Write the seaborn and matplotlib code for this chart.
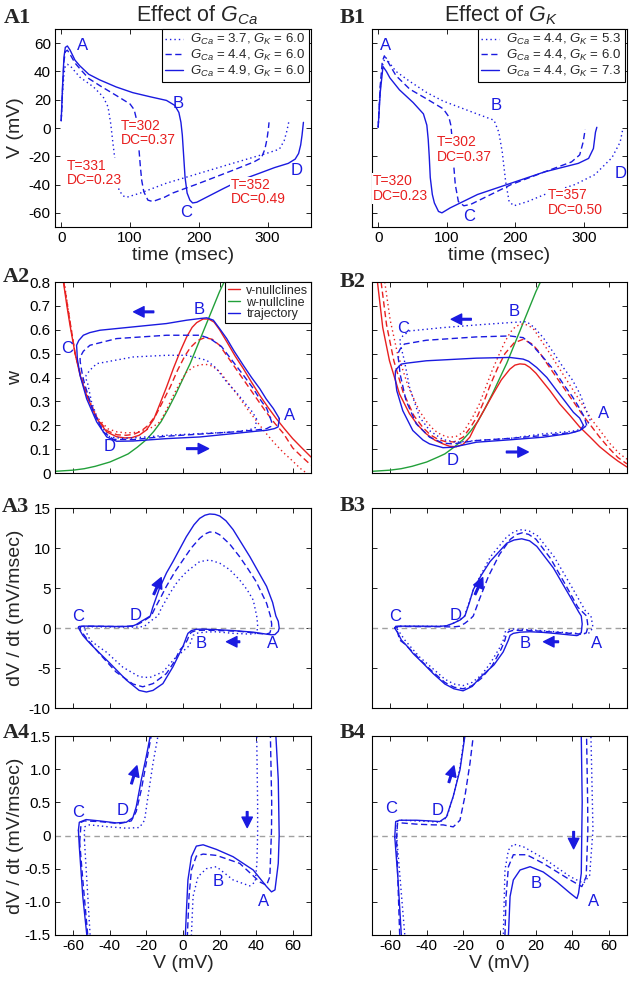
import numpy as np
import matplotlib
matplotlib.use('Agg')
import matplotlib.pyplot as plt
import seaborn as sns
from matplotlib.lines import Line2D

sns.set_theme(style='ticks')
plt.rcParams['font.family'] = ['Liberation Sans', 'DejaVu Sans']
plt.rcParams['mathtext.fontset'] = 'custom'
plt.rcParams['mathtext.rm'] = 'Liberation Sans'
plt.rcParams['mathtext.it'] = 'Liberation Sans:italic'
plt.rcParams['axes.unicode_minus'] = False

BLUE = '#1a1ae0'
RED = '#e82020'
GREEN = '#22a03a'

# ---------------- A1 : V(t), effect of G_Ca ----------------
a1_t_solid = [0, 2, 4, 6, 9, 13, 20, 27, 40, 56, 80, 104, 130, 153, 165, 171, 174, 176, 178, 180, 183, 187,
              191, 197, 215, 235, 260, 288, 310, 330, 340, 345, 348, 350, 352]
a1_v_solid = [5, 30, 50, 57, 58, 55, 48, 44, 38, 34, 29, 25, 22, 19.5, 16, 11, 4, -5, -20, -35, -46, -51,
              -53, -52.5, -48, -43, -37, -32, -28, -25, -22, -18, -12, -5, 4]
a1_t_dash = [0, 2, 4, 6, 9, 13, 20, 27, 40, 56, 80, 100, 106, 109, 111, 113, 115, 117, 120, 126, 133, 150,
             162, 201, 249, 280, 291, 296, 299, 301, 302]
a1_v_dash = [5, 28, 47, 54, 55, 52, 46, 42, 35, 30, 23, 17, 13, 7, -3, -15, -27, -37, -45, -51, -52, -49,
             -46, -39, -30, -24, -21, -15, -8, -1, 4]
a1_t_dot = [0, 2, 4, 6, 9, 13, 20, 27, 47, 61, 68, 72, 75, 78, 81, 84, 90, 95, 115, 153, 201, 249, 298,
            317, 324, 328, 331]
a1_v_dot = [5, 25, 38, 44, 45, 44, 40, 36, 29, 22, 15, 3, -10, -22, -35, -44, -48, -49, -46, -39, -32, -25,
            -18, -15, -9, -2, 5]
a1_legend = [r'$G_{Ca}$ = 3.7, $G_K$ = 6.0', r'$G_{Ca}$ = 4.4, $G_K$ = 6.0', r'$G_{Ca}$ = 4.9, $G_K$ = 6.0']
a1_notes = [('T=331\nDC=0.23', 7.7, -31.7), ('T=302\nDC=0.37', 86, -3.4), ('T=352\nDC=0.49', 247, -45.2)]

# ---------------- B1 : V(t), effect of G_K ----------------
b1_t_solid = [0, 3, 7, 12, 17, 31, 51, 66, 71, 73, 74.5, 76, 79, 82, 88, 93, 105, 145, 194, 243, 292, 307,
              314, 317, 319]
b1_v_solid = [0.5, 25, 43.5, 40, 35.5, 27, 18, 10, 2, -8, -20, -35, -47, -53, -59, -60, -56.5, -47, -39,
              -31, -25, -21.5, -14.5, -3, 0.5]
b1_t_dash = [0, 3, 6, 9, 14, 26, 46, 71, 95, 103, 106, 108, 110, 112.5, 117, 125, 135, 194, 243, 282, 294,
             299, 302]
b1_v_dash = [0.5, 30, 47, 51, 47, 37, 27.5, 20.5, 13.5, 8, 2, -8, -25, -40, -52, -55, -54, -40, -31, -24,
             -19, -10, -1]
b1_t_dot = [0, 3, 7, 11, 15, 26, 46, 71, 95, 144, 169, 176, 181, 186, 191, 198, 218, 243, 287, 316, 341,
            353, 357]
b1_v_dot = [0.5, 28, 46, 50, 47, 40, 33, 25, 19, 10, 5.5, -3, -17, -38, -52, -55, -52, -47, -40, -33, -21,
            -10, -0.5]
b1_legend = [r'$G_{Ca}$ = 4.4, $G_K$ = 5.3', r'$G_{Ca}$ = 4.4, $G_K$ = 6.0', r'$G_{Ca}$ = 4.4, $G_K$ = 7.3']
b1_notes = [('T=320\nDC=0.23', -8, -42.8), ('T=302\nDC=0.37', 85, -15.2), ('T=357\nDC=0.50', 248, -52.8)]

# ---------------- w-nullcline (both phase planes) ----------------
wnull_v = [-70, -60, -54, -48, -40, -34, -30, -25, -20, -16, -12, -8, -4, 0, 4, 8, 12, 16, 20, 22.5]
wnull_w = [0.007, 0.012, 0.018, 0.028, 0.046, 0.066, 0.08, 0.108, 0.14, 0.174, 0.215, 0.27, 0.33, 0.395,
           0.46, 0.535, 0.61, 0.685, 0.76, 0.80]

# ---------------- A2 : phase plane, G_Ca ----------------
a2_vn_v_solid = [-65.4, -63.5, -61.8, -59, -56.3, -52.7, -47.2, -41.7, -36.3, -32, -28, -24, -20, -16, -12.6,
                 -9, -5.3, -1.5, 2, 5, 7.5, 11, 14, 17, 20, 24, 28.5, 33, 37.5, 42, 46.5, 51, 55.5, 60, 65, 70]
a2_vn_w_solid = [0.8, 0.7, 0.619, 0.5, 0.41, 0.325, 0.228, 0.172, 0.152, 0.147, 0.148, 0.158, 0.18, 0.225,
                 0.29, 0.36, 0.437, 0.51, 0.57, 0.61, 0.63, 0.645, 0.645, 0.632, 0.60, 0.549, 0.49, 0.437,
                 0.38, 0.325, 0.275, 0.228, 0.185, 0.144, 0.105, 0.067]
a2_vn_v_dash = [-65.2, -61.5, -59, -56, -52.5, -47, -41.5, -36, -31, -27, -23, -19, -15, -11, -7, -3, 1, 4,
                8, 12, 16, 20, 25, 30, 35, 40, 45, 50, 55, 60, 65, 70]
a2_vn_w_dash = [0.8, 0.62, 0.5, 0.41, 0.325, 0.23, 0.177, 0.16, 0.158, 0.162, 0.175, 0.2, 0.24, 0.3, 0.36,
                0.43, 0.49, 0.525, 0.555, 0.567, 0.56, 0.535, 0.48, 0.425, 0.37, 0.315, 0.26, 0.21, 0.165,
                0.105, 0.068, 0.033]
a2_vn_v_dot = [-65, -61.5, -59, -56, -52.5, -47, -41, -36, -31, -26, -21, -16.5, -12.6, -9, -5.3, -1.5, 2, 6,
               9.3, 12.5, 16, 20, 25, 30, 35, 40, 45, 50, 55, 60, 64, 67.5]
a2_vn_w_dot = [0.8, 0.62, 0.5, 0.41, 0.325, 0.233, 0.185, 0.172, 0.168, 0.17, 0.178, 0.193, 0.214, 0.265,
               0.325, 0.38, 0.423, 0.445, 0.453, 0.455, 0.448, 0.425, 0.375, 0.325, 0.27, 0.22, 0.17, 0.125,
               0.085, 0.05, 0.02, 0.0]
a2_tr_v_solid = [52.7, 49.4, 45.5, 42, 37.5, 33, 28, 23.9, 20, 16.6, 13, 9.3, 2, -9, -27.2, -45.4, -51, -54.5,
                 -57, -58.2, -58, -57.8, -56.3, -52.7, -47.2, -41.7, -36.3, -27.2, -9, 9.3, 27.5, 40, 45.8,
                 50, 52, 52.7]
a2_tr_w_solid = [0.228, 0.27, 0.31, 0.353, 0.40, 0.451, 0.51, 0.563, 0.605, 0.64, 0.65, 0.647, 0.64, 0.626,
                 0.612, 0.598, 0.588, 0.577, 0.555, 0.535, 0.51, 0.479, 0.409, 0.311, 0.214, 0.151, 0.133,
                 0.134, 0.144, 0.151, 0.165, 0.175, 0.179, 0.186, 0.193, 0.228]
a2_tr_v_dash = [48.5, 45.8, 42, 38.5, 33, 27.5, 21, 14.8, 9.3, -9, -36.3, -50.9, -54.5, -56.3, -56.2, -55,
                -53.6, -49, -43.6, -38, -27.2, -9, 9.3, 27.5, 40, 45.8, 48, 48.5]
a2_tr_w_dash = [0.214, 0.27, 0.31, 0.353, 0.41, 0.465, 0.53, 0.563, 0.577, 0.577, 0.563, 0.535, 0.51, 0.485,
                0.465, 0.41, 0.367, 0.256, 0.172, 0.141, 0.14, 0.154, 0.163, 0.172, 0.18, 0.186, 0.195, 0.214]
a2_tr_v_dot = [40.3, 38, 34.8, 30, 23.9, 18, 13, 2, -9, -27.2, -47.2, -51, -53, -53.2, -52.3, -50, -45.4, -40,
               -33, -27.2, -9, 9.3, 27.5, 36, 39.5, 40.3]
a2_tr_w_dot = [0.225, 0.255, 0.284, 0.33, 0.381, 0.44, 0.472, 0.493, 0.493, 0.486, 0.458, 0.43, 0.409, 0.395,
               0.381, 0.297, 0.2, 0.151, 0.145, 0.147, 0.158, 0.165, 0.172, 0.18, 0.19, 0.225]

# ---------------- B2 : phase plane, G_K ----------------
b2_vn_v_solid = [-67, -64.1, -60.4, -54.9, -49.4, -44.8, -40.2, -35.6, -31, -27.4, -23.7, -20, -16.3, -12.7,
                 -8, -3.5, 1, 5.7, 8.5, 11.2, 14, 16.7, 20, 24, 27.7, 33, 38.8, 44, 49.8, 55, 60.8, 65, 70]
b2_vn_w_solid = [0.8, 0.609, 0.47, 0.331, 0.248, 0.2, 0.164, 0.138, 0.122, 0.112, 0.11, 0.12, 0.15, 0.206,
                 0.27, 0.331, 0.39, 0.435, 0.452, 0.457, 0.455, 0.442, 0.418, 0.38, 0.345, 0.29, 0.24, 0.193,
                 0.15, 0.11, 0.074, 0.05, 0.025]
b2_vn_v_dash = [-65, -62, -58, -53, -47, -42, -38, -34, -30, -25, -20, -16, -12, -8, -5, -1, 3, 8, 13, 18,
                22, 25, 30, 35, 40, 45, 50, 55, 60, 65, 70]
b2_vn_w_dash = [0.8, 0.62, 0.47, 0.34, 0.24, 0.19, 0.16, 0.142, 0.132, 0.13, 0.15, 0.19, 0.24, 0.31, 0.37,
                0.44, 0.5, 0.545, 0.56, 0.54, 0.505, 0.47, 0.415, 0.36, 0.305, 0.25, 0.2, 0.15, 0.105, 0.065,
                0.038]
b2_vn_v_dot = [-63, -60, -56, -50, -44, -40, -36, -32, -28, -24, -20, -15, -11, -8, -4, 0, 3, 6, 9, 13, 16,
               19, 22, 26, 31, 36, 41, 46, 51, 56, 61, 66, 70]
b2_vn_w_dot = [0.8, 0.64, 0.5, 0.36, 0.26, 0.215, 0.18, 0.16, 0.15, 0.152, 0.17, 0.23, 0.29, 0.35, 0.43,
               0.5, 0.55, 0.59, 0.615, 0.625, 0.618, 0.6, 0.565, 0.52, 0.46, 0.4, 0.34, 0.28, 0.22, 0.17,
               0.12, 0.08, 0.058]
b2_tr_v_solid = [46.1, 44, 40.6, 36, 31.4, 26, 20.4, 16, 13, 5.7, -12.7, -40.2, -51, -54, -56, -57.1, -57.3,
                 -56.4, -53.1, -47.6, -42, -38.4, -31, -25.5, -12.7, 5.7, 24, 38, 44.2, 46.1]
b2_tr_w_solid = [0.199, 0.23, 0.254, 0.3, 0.345, 0.4, 0.442, 0.468, 0.477, 0.484, 0.481, 0.47, 0.46, 0.456,
                 0.44, 0.428, 0.4, 0.345, 0.261, 0.178, 0.138, 0.122, 0.106, 0.108, 0.129, 0.139, 0.15,
                 0.165, 0.178, 0.199]
b2_tr_v_dash = [47.9, 46.5, 44.2, 40, 35, 30, 24, 18, 13, 5.7, -12.7, -40.2, -52.2, -54.5, -55.9, -55.2,
                -54.6, -51.3, -45.7, -38.4, -31, -25.5, -12.7, 5.7, 24, 40, 44.2, 47.9]
b2_tr_w_dash = [0.199, 0.235, 0.268, 0.32, 0.373, 0.43, 0.484, 0.535, 0.567, 0.574, 0.57, 0.556, 0.54, 0.52,
                0.498, 0.46, 0.415, 0.303, 0.206, 0.15, 0.125, 0.122, 0.136, 0.145, 0.157, 0.17, 0.178, 0.199]
b2_tr_v_dot = [49.8, 47, 44.2, 40, 35, 30, 24, 19, 14.9, 5.7, -12.7, -31, -49.4, -53, -54.9, -53.5, -52.2,
               -49.4, -43.9, -38, -31, -23.7, -12.7, 5.7, 24, 40, 46, 49.8]
b2_tr_w_dot = [0.22, 0.275, 0.331, 0.39, 0.442, 0.5, 0.567, 0.61, 0.634, 0.63, 0.62, 0.609, 0.595, 0.575,
               0.554, 0.51, 0.47, 0.359, 0.234, 0.175, 0.14, 0.129, 0.136, 0.145, 0.164, 0.175, 0.185, 0.22]

# ---------------- A3/A4 : dV/dt vs V, G_Ca ----------------
a3_v_solid = [-57.2, -56.7, -53, -45.7, -36.6, -31, -27.4, -25.6, -22.8, -20.1, -17.9, -16.5, -12.8, -9,
              -5.5, 1.8, 6, 9.1, 12, 14.6, 17.5, 20.1, 23.5, 27.4, 36.6, 45.7, 49, 50.8, 52.1, 52.6, 52.1,
              50.3, 48.4, 45.7, 38.4, 27.4, 18.3, 11, 7.3, 4.6, 2.7, 1.8, 1.3, 0, -5.5, -11, -16.4, -20, -24,
              -31, -40, -49.3, -52.6, -54.8, -56.7, -57.2]
a3_d_solid = [0.08, 0.2, 0.24, 0.22, 0.19, 0.2, 0.27, 0.43, 0.84, 1.19, 1.5, 2.6, 5.0, 6.9, 8.3, 11.4, 12.9,
              13.7, 14.1, 14.25, 14.2, 14.0, 13.4, 12.3, 8.9, 5.2, 3.2, 1.5, 0.84, 0, -0.42, -0.82, -0.85,
              -0.77, -0.52, -0.32, -0.21, -0.14, -0.16, -0.32, -0.67, -1.18, -1.5, -2.3, -4.85, -6.95, -7.8,
              -8.0, -7.8, -6.5, -4.4, -2.3, -1.5, -0.92, -0.17, 0.08]
a3_v_dash = [-56.5, -55.7, -54, -45.7, -34.7, -28.3, -25.6, -22.8, -20.1, -17.4, -15.5, -12, -9.1, -4.5, 0,
             4.5, 9.1, 12, 14.6, 17.5, 20.1, 25.5, 31, 35.5, 40, 45.7, 47.8, 48.5, 48.4, 47.5, 45.7, 42, 31,
             18.3, 11, 7.3, 4.6, 3.3, 2.4, 0.5, -1.8, -5, -9.1, -16.4, -22, -27.4, -36.6, -45.7, -52.1,
             -54.8, -56.5]
a3_d_dash = [-0.1, 0.2, 0.22, 0.21, 0.18, 0.22, 0.36, 0.69, 1.09, 1.5, 2.4, 3.9, 5.2, 7.0, 8.5, 10.0, 11.2,
             11.75, 12.0, 11.95, 11.65, 10.5, 8.9, 7.4, 5.8, 3.1, 1.5, 0.5, 0.08, -0.62, -0.75, -0.7, -0.42,
             -0.3, -0.28, -0.31, -0.52, -0.92, -1.5, -2.2, -2.76, -4.3, -5.7, -6.95, -7.35, -7.0, -5.5, -3.2,
             -1.5, -0.67, -0.1]
a3_v_dot = [-53.9, -53.9, -51.2, -40.2, -31, -23.8, -21, -19.2, -16.4, -13.7, -12, -7.3, -3, 1.8, 9.1, 14.6,
            20.1, 25.5, 31, 35, 38.4, 40.3, 40.8, 40.8, 40.4, 39.5, 36.5, 27.4, 18.3, 12.8, 8.2, 5.5, 4.6,
            3.5, -0.5, -3.7, -11, -18.3, -23.8, -32.9, -42, -47, -50.8, -52.6, -53.9]
a3_d_dot = [-0.07, 0.13, 0.16, 0.13, 0.11, 0.12, 0.23, 0.58, 1.09, 1.5, 2.4, 4.3, 5.8, 7.0, 8.3, 8.5, 8.1,
            7.3, 6.0, 4.8, 3.5, 1.5, 0.5, 0, -0.42, -0.7, -0.76, -0.67, -0.47, -0.5, -0.62, -0.92, -1.5,
            -2.2, -3.0, -3.6, -5.5, -6.2, -6.1, -4.9, -3.0, -2.2, -1.5, -0.67, -0.07]

# ---------------- B3/B4 : dV/dt vs V, G_K ----------------
b3_v_solid = [-57.5, -57, -55, -45.6, -38.3, -32.8, -29.1, -25.4, -21.7, -19, -16.5, -14.4, -10, -5.2, 4, 8,
              12.2, 16.5, 20.5, 29.6, 38.8, 43.5, 44.9, 45.4, 45.2, 44.9, 43.4, 42.5, 38.8, 31.5, 24, 16.8,
              11.3, 7.6, 5.8, 4.9, 2, -3, -10.7, -15, -20, -25, -30, -36.4, -42, -47.4, -51, -53.9, -55.7,
              -57.5]
b3_d_solid = [-0.02, 0.21, 0.23, 0.23, 0.22, 0.21, 0.28, 0.59, 0.99, 1.5, 3.2, 4.8, 6.6, 8.3, 10.6, 11.0,
              11.15, 10.9, 10.2, 7.5, 3.9, 2.0, 1.5, 0.5, 0.08, -0.57, -0.87, -0.95, -0.87, -0.7, -0.55,
              -0.47, -0.52, -0.67, -0.92, -1.5, -3.0, -4.6, -6.2, -7.3, -7.85, -7.6, -7.0, -5.7, -4.4, -3.2,
              -2.2, -1.5, -0.67, -0.02]
b3_v_dash = [-56.5, -56, -54, -45, -36, -30.9, -25.4, -21.7, -19, -16.2, -14.4, -11, -6, 0, 6, 9.5, 12.5,
             16, 20, 28, 36, 43, 47.8, 48.4, 48.5, 47.6, 45.2, 38.8, 24, 14.9, 7.6, 4.9, 3.6, 3, 1, -4, -10,
             -15, -20, -25, -30, -37, -43, -48, -52, -54.8, -55.8, -56.5]
b3_d_dash = [-0.05, 0.18, 0.19, 0.17, 0.16, 0.16, 0.13, 0.23, 0.59, 1.09, 1.5, 3.6, 6.5, 9.2, 11.1, 11.7,
             11.9, 11.7, 11.1, 8.7, 5.5, 2.6, 1.5, 0.5, 0.08, -0.62, -0.77, -0.67, -0.42, -0.29, -0.29, -0.47,
             -0.92, -1.5, -2.6, -4.7, -6.3, -7.2, -7.6, -7.4, -6.8, -5.4, -4.1, -2.9, -2.0, -1.5, -0.67,
             -0.05]
b3_v_dot = [-56.5, -56, -54, -45, -38, -33, -29, -25.5, -22, -19.2, -17, -14, -5, 4, 8.5, 12.5, 16.5, 21, 30,
            40, 47, 50.2, 51, 51.3, 49.5, 46.1, 38.8, 24, 13.1, 7.6, 4.9, 3, 2.1, 0, -5, -10, -15, -20, -25,
            -30, -37, -44, -49, -52, -54.5, -56.5]
b3_d_dot = [0.0, 0.21, 0.23, 0.22, 0.21, 0.2, 0.27, 0.58, 0.98, 1.5, 3.0, 5.0, 8.9, 11.4, 12.1, 12.3, 12.1,
            11.5, 8.9, 5.0, 2.2, 1.5, 0.5, 0.08, -0.6, -0.72, -0.62, -0.34, -0.17, -0.13, -0.22, -0.52,
            -1.5, -2.5, -4.4, -5.9, -6.8, -7.2, -7.0, -6.4, -5.0, -3.6, -2.3, -1.5, -0.67, 0.0]

STYLES = {'dot': (0, (1, 2.2)), 'dash': (0, (4.5, 2.5)), 'solid': '-'}


def line(ax, x, y, kind, color=BLUE, lw=1.0):
    sns.lineplot(x=x, y=y, sort=False, estimator=None, ax=ax, color=color,
                 linestyle=STYLES[kind], lw=lw)


def frame(ax):
    ax.tick_params(direction='in', top=True, right=True, length=3.5, width=0.6,
                   labelsize=11, pad=3, colors='black')
    for s in ax.spines.values():
        s.set_linewidth(0.8)
        s.set_color('black')


def letters(ax, items):
    for lab, x, y in items:
        ax.text(x, y, lab, color=BLUE, fontsize=12, ha='center', va='center', zorder=6)


def arrow(ax, tail, head):
    ax.annotate('', xy=head, xytext=tail,
                arrowprops=dict(facecolor=BLUE, edgecolor=BLUE, width=1.2, headwidth=7.5,
                                headlength=7.5, shrink=0), zorder=7)


def box(left, top, right, bottom):
    return [left / 629, 1 - bottom / 982, (right - left) / 629, (bottom - top) / 982]


fig = plt.figure(figsize=(6.29, 9.82), dpi=100)
cols = [(55, 311), (372, 627)]
rows = [(29, 227), (282, 473), (508, 708), (736, 935)]
axs = [[fig.add_axes(box(c[0], r[0], c[1], r[1])) for c in cols] for r in rows]

v_ticks = [-60, -40, -20, 0, 20, 40, 60]

# ---- row 1 ----
for ax, data, legend_labels, notes in [
        (axs[0][0], [(a1_t_dot, a1_v_dot, 'dot'), (a1_t_dash, a1_v_dash, 'dash'),
                     (a1_t_solid, a1_v_solid, 'solid')], a1_legend, a1_notes),
        (axs[0][1], [(b1_t_dot, b1_v_dot, 'dot'), (b1_t_dash, b1_v_dash, 'dash'),
                     (b1_t_solid, b1_v_solid, 'solid')], b1_legend, b1_notes)]:
    for t, v, k in data:
        line(ax, t, v, k)
    for txt, x, y in notes:
        ax.text(x, y, txt, color=RED, fontsize=10, ha='left', va='center', linespacing=1.05, zorder=5,
                bbox=dict(facecolor='white', edgecolor='none', pad=0.6))
    ax.set_xlim(-9, 363)
    ax.set_ylim(-70, 70)
    ax.set_xticks([0, 100, 200, 300])
    ax.set_yticks(v_ticks)
    ax.set_xlabel('time (msec)', fontsize=14, labelpad=1)
    handles = [Line2D([], [], color=BLUE, lw=1, linestyle=STYLES[k]) for k in ['dot', 'dash', 'solid']]
    leg = ax.legend(handles, legend_labels, loc='upper right', bbox_to_anchor=(0.992, 1.0), borderaxespad=0,
                    fontsize=9.5, handlelength=1.3, handletextpad=0.6, labelspacing=0.05, borderpad=0.25,
                    fancybox=False, framealpha=1, edgecolor='black')
    leg.get_frame().set_linewidth(0.8)
    frame(ax)

letters(axs[0][0], [('A', 31, 58), ('B', 170, 17), ('C', 182, -60), ('D', 342, -30)])
letters(axs[0][1], [('A', 11, 58), ('B', 172, 16), ('C', 132, -62.5), ('D', 353, -32)])
axs[0][0].set_ylabel('V (mV)', fontsize=14)

# ---- row 2 ----
for ax, vn, tr in [
        (axs[1][0], [(a2_vn_v_dot, a2_vn_w_dot, 'dot'), (a2_vn_v_dash, a2_vn_w_dash, 'dash'),
                     (a2_vn_v_solid, a2_vn_w_solid, 'solid')],
         [(a2_tr_v_dot, a2_tr_w_dot, 'dot'), (a2_tr_v_dash, a2_tr_w_dash, 'dash'),
          (a2_tr_v_solid, a2_tr_w_solid, 'solid')]),
        (axs[1][1], [(b2_vn_v_dot, b2_vn_w_dot, 'dot'), (b2_vn_v_dash, b2_vn_w_dash, 'dash'),
                     (b2_vn_v_solid, b2_vn_w_solid, 'solid')],
         [(b2_tr_v_dot, b2_tr_w_dot, 'dot'), (b2_tr_v_dash, b2_tr_w_dash, 'dash'),
          (b2_tr_v_solid, b2_tr_w_solid, 'solid')])]:
    line(ax, wnull_v, wnull_w, 'solid', color=GREEN)
    for v, w, k in vn:
        line(ax, v, w, k, color=RED)
    for v, w, k in tr:
        line(ax, v, w, k)
    ax.set_xlim(-70, 70)
    ax.set_ylim(0, 0.8)
    ax.set_xticks(v_ticks)
    ax.set_yticks(np.arange(0, 0.81, 0.1))
    ax.set_xlabel('')
    frame(ax)

axs[1][0].set_yticklabels(['0', '0.1', '0.2', '0.3', '0.4', '0.5', '0.6', '0.7', '0.8'])
axs[1][0].set_ylabel('w', fontsize=14)
leg = axs[1][0].legend([Line2D([], [], color=RED, lw=1), Line2D([], [], color=GREEN, lw=1),
                        Line2D([], [], color=BLUE, lw=1)],
                       ['v-nullclines', 'w-nullcline', 'trajectory'], loc='upper right', borderaxespad=0,
                       fontsize=9, handlelength=1.0, handletextpad=0.5, labelspacing=0.0, borderpad=0.2,
                       fancybox=False, framealpha=1, edgecolor='black')
leg.get_frame().set_linewidth(0.8)
letters(axs[1][0], [('A', 58.5, 0.242), ('B', 9, 0.686), ('C', -63.6, 0.521), ('D', -40, 0.109)])
letters(axs[1][1], [('A', 57, 0.248), ('B', 8, 0.676), ('C', -53, 0.607), ('D', -26, 0.053)])
arrow(axs[1][0], (-16, 0.675), (-27, 0.675))
arrow(axs[1][0], (2, 0.102), (14, 0.102))
arrow(axs[1][1], (-15.5, 0.644), (-26.5, 0.644))
arrow(axs[1][1], (3.8, 0.088), (15.8, 0.088))

# ---- rows 3 and 4 (same loops, different zoom) ----
loops_a = [(a3_v_dot, a3_d_dot, 'dot'), (a3_v_dash, a3_d_dash, 'dash'), (a3_v_solid, a3_d_solid, 'solid')]
loops_b = [(b3_v_dot, b3_d_dot, 'dot'), (b3_v_dash, b3_d_dash, 'dash'), (b3_v_solid, b3_d_solid, 'solid')]
for r, ylim, yt in [(2, (-10, 15), [-10, -5, 0, 5, 10, 15]), (3, (-1.5, 1.5), [-1.5, -1, -0.5, 0, 0.5, 1, 1.5])]:
    for c, loops in [(0, loops_a), (1, loops_b)]:
        ax = axs[r][c]
        ax.axhline(0, color='#a0a0a0', lw=1.0, linestyle=(0, (4, 3)), zorder=1)
        for v, d, k in loops:
            line(ax, v, d, k)
        ax.set_xlim(-70, 70)
        ax.set_ylim(*ylim)
        ax.set_xticks(v_ticks)
        ax.set_yticks(yt)
        ax.set_xlabel('')
        frame(ax)

axs[3][0].set_yticklabels(['-1.5', '-1.0', '-0.5', '0', '0.5', '1.0', '1.5'])
for c in range(2):
    axs[3][c].set_xlabel('V (mV)', fontsize=14, labelpad=1)
axs[2][0].set_ylabel('dV / dt (mV/msec)', fontsize=14)
axs[3][0].set_ylabel('dV / dt (mV/msec)', fontsize=14)

letters(axs[2][0], [('C', -57.6, 1.4), ('D', -26, 1.6), ('B', 10, -1.9), ('A', 49, -1.9)])
letters(axs[2][1], [('C', -57.5, 1.4), ('D', -24, 1.6), ('B', 14, -1.9), ('A', 53.5, -1.9)])
letters(axs[3][0], [('C', -57.6, 0.35), ('D', -33, 0.38), ('B', 19, -0.7), ('A', 44, -1.0)])
letters(axs[3][1], [('C', -59.4, 0.41), ('D', -33.7, 0.38), ('B', 20.4, -0.72), ('A', 51.6, -1.0)])
arrow(axs[2][0], (-16.0, 4.2), (-11.9, 6.3))
arrow(axs[2][0], (31, -1.72), (23.8, -1.72))
arrow(axs[2][1], (-13.4, 4.2), (-9.2, 6.3))
arrow(axs[2][1], (32.4, -1.72), (24.2, -1.72))
arrow(axs[3][0], (-28.2, 0.78), (-25.2, 1.05))
arrow(axs[3][0], (35.1, 0.36), (35.1, 0.12))
arrow(axs[3][1], (-27.8, 0.8), (-25, 1.05))
arrow(axs[3][1], (40.7, 0.06), (40.7, -0.2))

# tick label visibility
for r in range(4):
    axs[r][1].tick_params(labelleft=False)
    axs[r][1].set_ylabel('')
    if r in (1, 2):
        for c in range(2):
            axs[r][c].tick_params(labelbottom=False)
for r in range(4):
    axs[r][0].yaxis.set_label_coords(-0.12, 0.5)

# titles and panel labels
fig.text(197 / 629, 1 - 15 / 982, r'Effect of $G_{Ca}$', fontsize=15.5, ha='center', va='center')
fig.text(501 / 629, 1 - 15 / 982, r'Effect of $G_K$', fontsize=15.5, ha='center', va='center')
for lab, x, y in [('A1', 17, 18), ('B1', 353, 18), ('A2', 16, 277), ('B2', 353, 282),
                  ('A3', 15, 507), ('B3', 353, 506), ('A4', 16, 733), ('B4', 353, 733)]:
    fig.text(x / 629, 1 - y / 982, lab, fontsize=16, fontweight='bold', family='Liberation Serif',
             ha='center', va='center')

fig.savefig('out.png', dpi=100)
